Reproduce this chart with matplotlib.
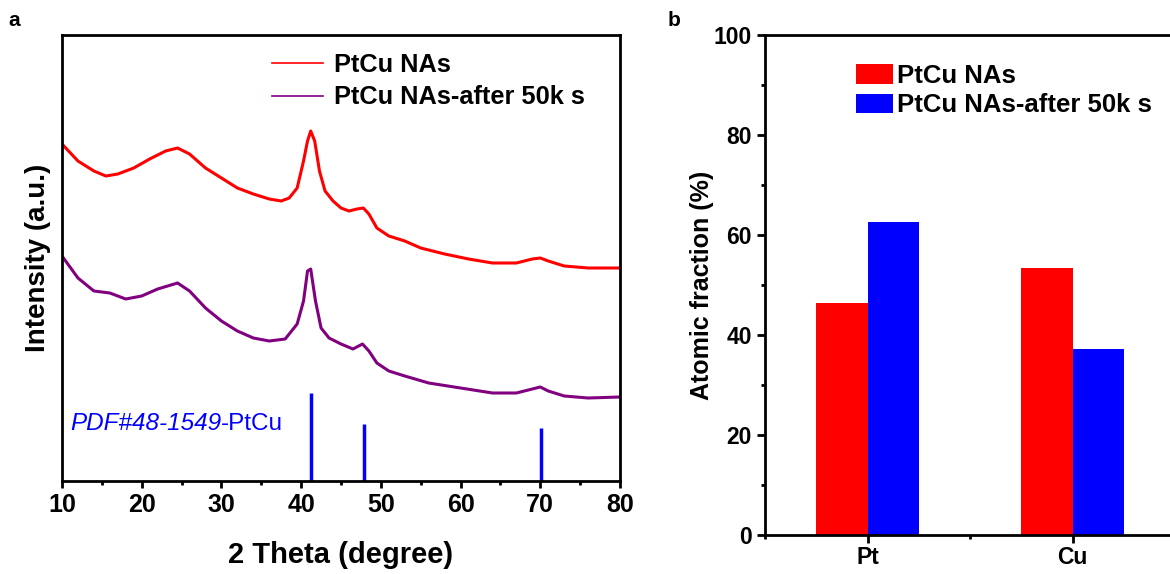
import matplotlib
matplotlib.use("Agg")
import matplotlib.pyplot as plt
from matplotlib.ticker import MultipleLocator
from matplotlib.lines import Line2D

plt.rcParams['font.family'] = ['Liberation Sans', 'DejaVu Sans']

# ---- Panel a: XRD data (arbitrary intensity units) ----
two_theta_a = [10, 12, 14, 15.5, 17, 19, 21, 23, 24.5, 26, 28, 30, 32, 34, 36, 37.5,
               38.5, 39.5, 40.3, 40.8, 41.2, 41.7, 42.3, 43, 44, 45, 46, 47, 47.8,
               48.5, 49.5, 51, 53, 55, 58, 61, 64, 67, 69, 70, 71, 73, 76, 80]
intensity_a = [337, 320, 310, 305, 307, 313, 322, 330, 333, 327, 313, 303, 293, 287, 282, 280,
               283, 293, 320, 340, 350, 340, 310, 290, 280, 273, 270, 272, 273,
               267, 253, 245, 240, 233, 227, 222, 218, 218, 222, 223, 220, 215, 213, 213]

two_theta_b = [10, 12, 14, 16, 18, 20, 22, 24.5, 26, 28, 30, 32, 34, 36, 38, 39.5,
               40.3, 40.8, 41.2, 41.8, 42.5, 43.5, 45, 46.5, 47.7, 48.5, 49.5, 51, 53,
               56, 60, 64, 67, 69, 70, 71, 73, 76, 80]
intensity_b = [225, 203, 190, 188, 182, 185, 192, 198, 190, 173, 160, 150, 143, 140, 142, 157,
               180, 210, 212, 180, 153, 143, 137, 132, 137, 130, 118, 110, 105,
               98, 93, 88, 88, 92, 94, 90, 85, 83, 84]

ref_positions = [41.2, 47.9, 70.1]
ref_heights = [88, 57, 53]

series_labels = ["PtCu NAs", "PtCu NAs-after 50k s"]

# ---- Panel b: atomic fraction ----
elements = ["Pt", "Cu"]
frac_before = [46.5, 53.5]
frac_after = [62.7, 37.3]

W, H = 1170, 574
fig = plt.figure(figsize=(W / 100, H / 100), dpi=100)

red = "#ff0000"
purple = "#800080"
blue = "#0000ff"

# Panel a
ax1 = fig.add_axes([62 / W, 1 - 481 / H, (620 - 62) / W, (481 - 35) / H])
ax1.plot(two_theta_a, intensity_a, color=red, lw=2.2)
ax1.plot(two_theta_b, intensity_b, color=purple, lw=2.2)
ax1.vlines(ref_positions, 0, ref_heights, color=blue, lw=2.5)
ax1.set_xlim(10, 80)
ax1.set_ylim(0, 446)
ax1.set_yticks([])
ax1.xaxis.set_major_locator(MultipleLocator(10))
ax1.xaxis.set_minor_locator(MultipleLocator(5))
ax1.tick_params(axis='x', which='major', direction='out', length=5, width=2,
                labelsize=18, pad=4)
ax1.tick_params(axis='x', which='minor', direction='out', length=3, width=2)
for lab in ax1.get_xticklabels():
    lab.set_fontweight('bold')
for s in ax1.spines.values():
    s.set_linewidth(2)
ax1.set_xlabel("2 Theta (degree)", fontsize=21, fontweight='bold', labelpad=17)
ax1.set_ylabel("Intensity (a.u.)", fontsize=20, fontweight='bold', labelpad=8)

txt = ax1.text(11.0, 57, "PDF#48-1549", color=blue, fontsize=17.5, va='center',
               ha='left', style='italic')
fig.canvas.draw()
bb = txt.get_window_extent()
x_end = ax1.transData.inverted().transform((bb.x1, bb.y0))[0]
ax1.text(x_end, 57, "-PtCu", color=blue, fontsize=17.5, va='center', ha='left')

handles1 = [Line2D([0], [0], color=red, lw=1.2), Line2D([0], [0], color=purple, lw=1.2)]
ax1.legend(handles1, series_labels, loc='upper right', frameon=False,
           prop={'size': 18.3, 'weight': 'bold'}, handlelength=2.0,
           handletextpad=0.45, labelspacing=0.35,
           bbox_to_anchor=(0.978, 1.012))

# Panel b
ax2 = fig.add_axes([765 / W, 1 - 535 / H, (1175 - 765) / W, (535 - 35) / H])
bw = 0.25
xpos = [1, 2]
ax2.bar([x - bw / 2 for x in xpos], frac_before, width=bw, color=red,
        label=series_labels[0])
ax2.bar([x + bw / 2 for x in xpos], frac_after, width=bw, color=blue,
        label=series_labels[1])
ax2.set_xlim(0.5, 2.5)
ax2.set_ylim(0, 100)
ax2.set_xticks(xpos)
ax2.set_xticklabels(elements)
ax2.xaxis.set_minor_locator(MultipleLocator(0.5))
ax2.yaxis.set_major_locator(MultipleLocator(20))
ax2.yaxis.set_minor_locator(MultipleLocator(10))
ax2.tick_params(which='major', direction='out', length=6, width=2, labelsize=16.5)
ax2.tick_params(axis='x', which='major', pad=2)
ax2.tick_params(which='minor', direction='out', length=3, width=2)
for lab in ax2.get_xticklabels() + ax2.get_yticklabels():
    lab.set_fontweight('bold')
for s in ax2.spines.values():
    s.set_linewidth(2)
ax2.spines['right'].set_visible(False)
ax2.set_ylabel("Atomic fraction (%)", fontsize=18, fontweight='bold', labelpad=0)
ax2.legend(loc='upper left', frameon=False, prop={'size': 18.5, 'weight': 'bold'},
           handlelength=1.45, handleheight=0.8, handletextpad=0.15, labelspacing=0.2,
           bbox_to_anchor=(0.166, 0.988))

fig.text(8 / W, 1 - 20 / H, "a", fontsize=15, fontweight='bold', va='center')
fig.text(668 / W, 1 - 20 / H, "b", fontsize=15, fontweight='bold', va='center')

fig.savefig("out.png", dpi=100, facecolor='white')
